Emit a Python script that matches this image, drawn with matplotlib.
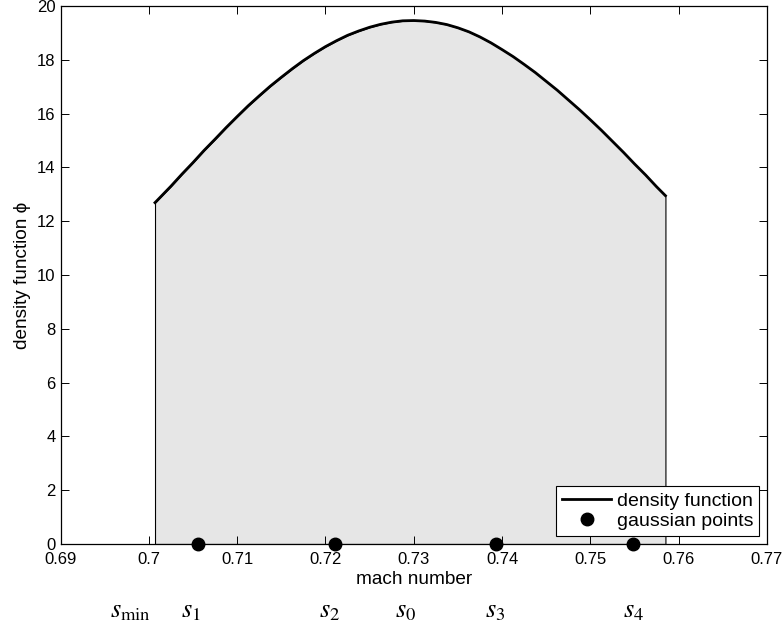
import matplotlib
matplotlib.use('Agg')
import matplotlib.pyplot as plt
import matplotlib.transforms as mtransforms

plt.rcParams['font.family'] = ['Liberation Sans', 'DejaVu Sans']
plt.rcParams['mathtext.fontset'] = 'stix'

# densidad
mach = [0.7007, 0.7025, 0.70375, 0.7050, 0.70625, 0.7075, 0.70875, 0.7100, 0.71125,
        0.7125, 0.71375, 0.7150, 0.71625, 0.7175, 0.71875, 0.7200, 0.72125, 0.7225,
        0.72375, 0.7250, 0.72625, 0.7275, 0.72875, 0.7300, 0.73125, 0.7325, 0.73375,
        0.7350, 0.73625, 0.7375, 0.73875, 0.7400, 0.74125, 0.7425, 0.74375, 0.7450,
        0.74625, 0.7475, 0.74875, 0.7500, 0.75125, 0.7525, 0.75375, 0.7550, 0.75625,
        0.7575, 0.7585]
densidad = [12.69, 13.30, 13.75, 14.18, 14.63, 15.05, 15.48, 15.89, 16.29,
            16.66, 17.02, 17.35, 17.67, 17.97, 18.24, 18.49, 18.71, 18.91,
            19.07, 19.21, 19.32, 19.40, 19.45, 19.46, 19.44, 19.39, 19.31,
            19.19, 19.04, 18.85, 18.63, 18.38, 18.12, 17.83, 17.53, 17.20,
            16.87, 16.51, 16.15, 15.77, 15.38, 14.97, 14.56, 14.13, 13.72,
            13.28, 12.95]

# puntos de gauss
gauss_x = [0.7056, 0.7211, 0.7393, 0.7548]
gauss_y = [0, 0, 0, 0]

# etiquetas s debajo del eje
s_labels = [r'$s_{\mathrm{min}}$', r'$s_1$', r'$s_2$', r'$s_0$', r'$s_3$', r'$s_4$']
s_pos = [0.6979, 0.7048, 0.7205, 0.7291, 0.7392, 0.7549]

xticks = [0.69, 0.70, 0.71, 0.72, 0.73, 0.74, 0.75, 0.76, 0.77]
xticklabels = ['0.69', '0.7', '0.71', '0.72', '0.73', '0.74', '0.75', '0.76', '0.77']
yticks = [0, 2, 4, 6, 8, 10, 12, 14, 16, 18, 20]

fig = plt.figure(figsize=(7.82, 6.27), dpi=100)
ax = fig.add_axes([0.0774, 0.1324, 0.9034, 0.858])

ax.fill_between(mach, 0, densidad, facecolor='#e6e6e6', edgecolor='black', linewidth=0.8)
ax.plot(mach, densidad, color='black', linewidth=2.0, label='density function',
        solid_joinstyle='round')
ax.plot(gauss_x, gauss_y, 'o', color='black', markersize=9, linestyle='none',
        label='gaussian points', clip_on=False, zorder=5)

ax.set_xlim(0.69, 0.77)
ax.set_ylim(0, 20)
ax.set_xticks(xticks)
ax.set_xticklabels(xticklabels)
ax.set_yticks(yticks)
ax.tick_params(direction='in', top=True, right=True, length=5.5, width=0.7,
               labelsize=12)
ax.tick_params(axis='x', pad=5.5)
ax.tick_params(axis='y', pad=3.5)
for sp in ax.spines.values():
    sp.set_linewidth(0.9)

ax.set_xlabel('mach number', fontsize=13.7, va='baseline')
ax.xaxis.set_label_coords(0.5, -0.0743)
ax.set_ylabel('density function \u03d5', fontsize=13.7)
ax.yaxis.set_label_coords(-0.042, 0.5)

leg = ax.legend(loc='lower right', bbox_to_anchor=(0.9887, 0.0149), borderaxespad=0,
                fontsize=14, fancybox=False, framealpha=1, edgecolor='black',
                handlelength=2.5, handletextpad=0.3, borderpad=0.3, labelspacing=0.15,
                numpoints=1)
leg.get_frame().set_linewidth(0.8)

trans = mtransforms.blended_transform_factory(ax.transData, fig.transFigure)
for lab, xp in zip(s_labels, s_pos):
    ax.text(xp, 0.016, lab, transform=trans, ha='center', va='baseline', fontsize=19)

fig.savefig('out.png', dpi=100)
